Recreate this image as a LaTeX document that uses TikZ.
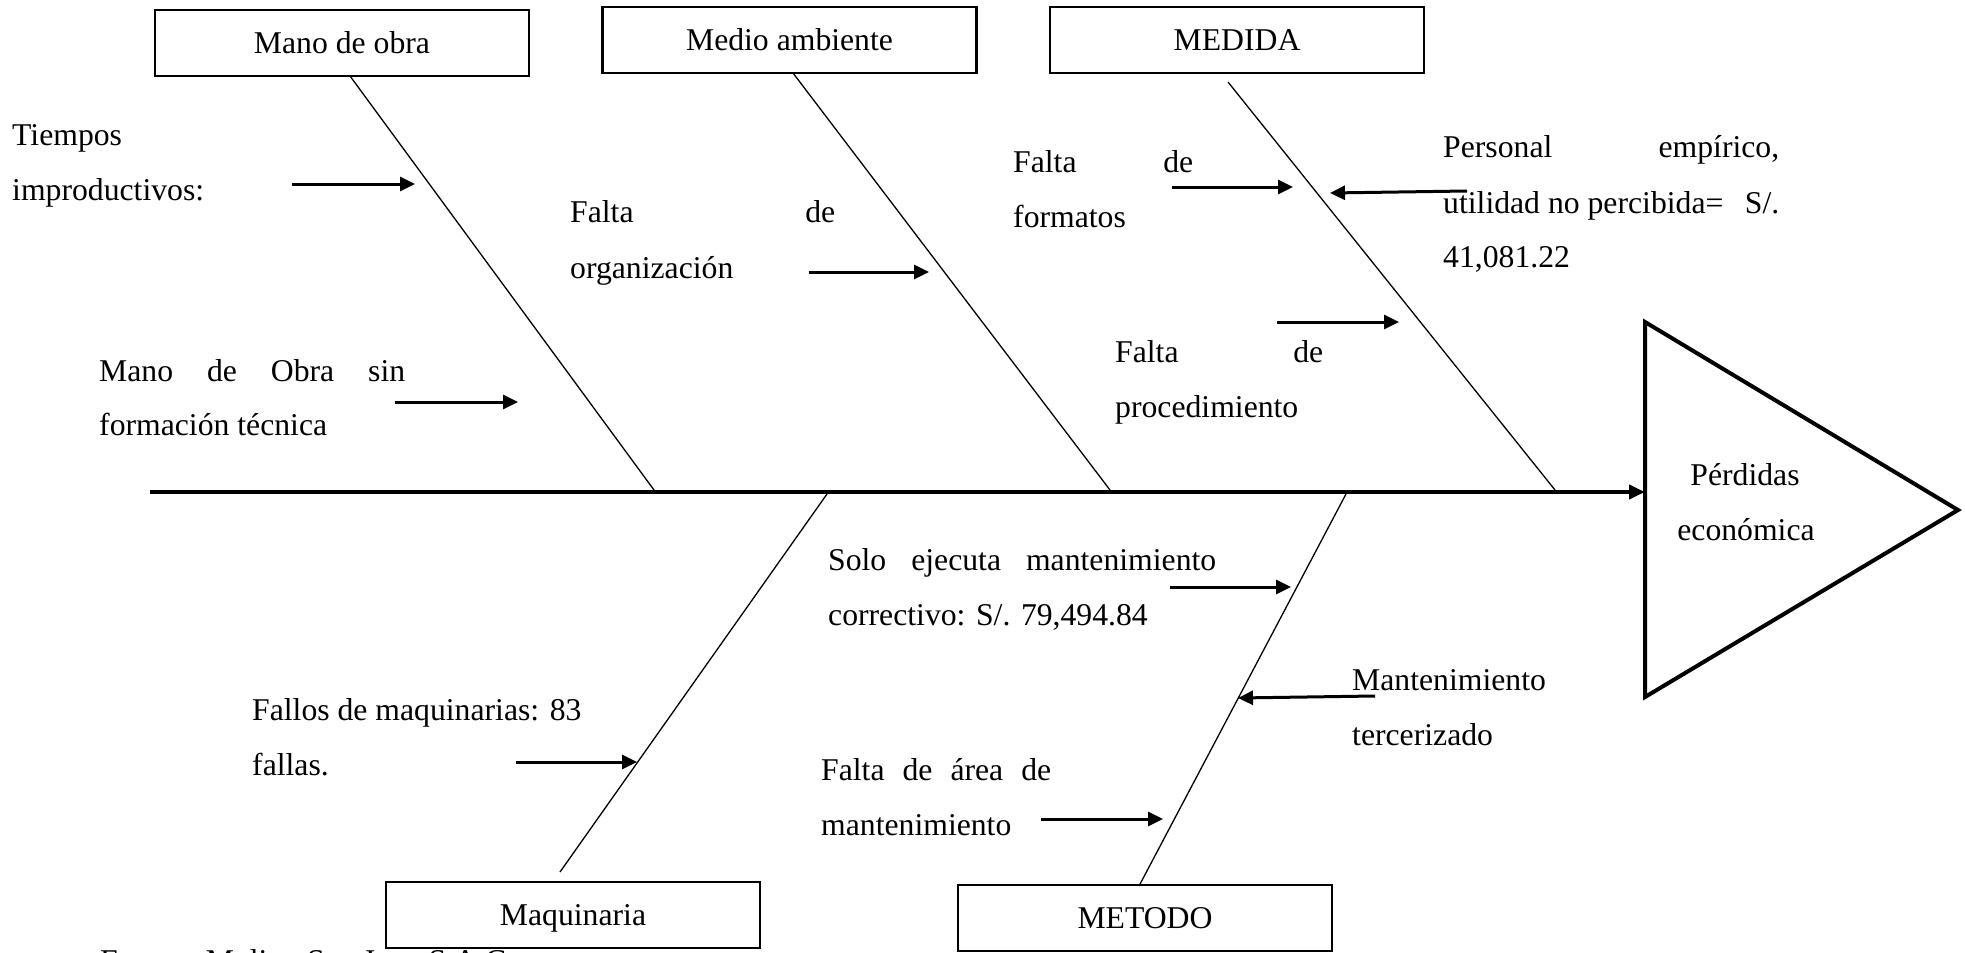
\documentclass[tikz,border=0pt]{standalone}
\usepackage{fontspec}
\setmainfont{Liberation Serif}
\usetikzlibrary{arrows.meta}
\begin{document}
\begin{tikzpicture}[x=1pt,y=-1pt,
  every node/.style={font=\fontsize{31.7}{40}\selectfont, inner sep=0pt},
  catbox/.style={draw, line width=2.5pt, minimum width=374pt, minimum height=66pt,
                 text height=21pt, text depth=0pt},
  bone/.style={line width=1.3pt},
  spine/.style={line width=4pt, -{Triangle[length=16pt,width=14pt]}},
  cause/.style={line width=3pt, -{Triangle[length=15pt,width=14pt]}},
  lbl/.style={anchor=base west},
  effectbox/.style={line width=4pt, line join=miter}]
% page frame
\useasboundingbox (0,0) rectangle (1965,953);
\fill[white] (0,0) rectangle (1965,953);

% category boxes
\node[catbox] (mano)  at (342,43)  {Mano de obra};
\node[catbox] (medio) at (789.5,40) {Medio ambiente};
\node[catbox] (medida) at (1237,40) {MEDIDA};
\node[catbox] (maq)   at (573,915) {Maquinaria};
\node[catbox] (metodo) at (1145,918) {METODO};

% effect head
\coordinate (hA) at (1645,322);
\coordinate (hB) at (1958,510);
\coordinate (hC) at (1645,697);
\draw[effectbox] (hA) -- (hB) -- (hC) -- cycle;
\node[anchor=base] (ef1) at (1745,485) {Pérdidas};
\node[anchor=base] (ef2) at (1746,540) {económica};

% spine
\coordinate (sp0) at (150,492);
\coordinate (sp1) at (1645,492);
\draw[spine] (sp0) -- (sp1);

% bones
\coordinate (b1t) at (350,76);   \coordinate (b1b) at (654,490);
\coordinate (b2t) at (793,73);   \coordinate (b2b) at (1110,490);
\coordinate (b3t) at (1228,82);  \coordinate (b3b) at (1555,490);
\coordinate (b4t) at (827,494);  \coordinate (b4b) at (560,872);
\coordinate (b5t) at (1346,494); \coordinate (b5b) at (1139,886);
\draw[bone] (b1t) -- (b1b);
\draw[bone] (b2t) -- (b2b);
\draw[bone] (b3t) -- (b3b);
\draw[bone] (b4t) -- (b4b);
\draw[bone] (b5t) -- (b5b);

% cause arrows
\coordinate (a1s) at (292,184);  \coordinate (a1e) at (415,184);
\coordinate (a2s) at (395,402);  \coordinate (a2e) at (518,402);
\coordinate (a3s) at (809,272);  \coordinate (a3e) at (929,272);
\coordinate (a4s) at (1172,187); \coordinate (a4e) at (1293,187);
\coordinate (a5s) at (1467,191); \coordinate (a5e) at (1330,193);
\coordinate (a6s) at (1277,322); \coordinate (a6e) at (1399,322);
\coordinate (a7s) at (1170,587); \coordinate (a7e) at (1291,587);
\coordinate (a8s) at (1375,696); \coordinate (a8e) at (1238,698);
\coordinate (a9s) at (1041,819); \coordinate (a9e) at (1163,819);
\coordinate (a10s) at (516,762); \coordinate (a10e) at (637,762);
\foreach \k in {1,...,10} {\draw[cause] (a\k s) -- (a\k e);}

% cause texts
\node[lbl] (t1a) at (12,145) {Tiempos};
\node[lbl] (t1b) at (12,200) {improductivos:};
\node[lbl] (t2a) at (99,381) {\makebox[306pt][s]{Mano de Obra sin}};
\node[lbl] (t2b) at (99,435) {formación técnica};
\node[lbl] (t3a) at (570,222) {\makebox[265pt][s]{Falta de}};
\node[lbl] (t3b) at (570,278) {organización};
\node[lbl] (t4a) at (1013,172) {\makebox[180pt][s]{Falta de}};
\node[lbl] (t4b) at (1013,227) {formatos};
\node[lbl] (t5a) at (1443,157) {\makebox[336pt][s]{Personal empírico,}};
\node[lbl] (t5b) at (1443,213) {\makebox[336pt][l]{utilidad no percibida=\hfill S/.}};
\node[lbl] (t5c) at (1443,267) {41,081.22};
\node[lbl] (t6a) at (1115,362) {\makebox[208pt][s]{Falta de}};
\node[lbl] (t6b) at (1115,417) {procedimiento};
\node[lbl] (t7a) at (828,570) {\makebox[388pt][s]{Solo ejecuta mantenimiento}};
\node[lbl] (t7b) at (828,625) {correctivo: S/. 79,494.84};
\node[lbl] (t8a) at (1352,690) {Mantenimiento};
\node[lbl] (t8b) at (1352,745) {tercerizado};
\node[lbl] (t9a) at (821,780) {\makebox[230pt][s]{Falta de área de}};
\node[lbl] (t9b) at (821,835) {mantenimiento};
\node[lbl] (t10a) at (252,720) {Fallos de maquinarias: 83};
\node[lbl] (t10b) at (252,775) {fallas.};

% source line, running off the lower edge
\node[lbl] (src) at (100,971) {Fuente: Molino San Juan S.A.C.};
\end{tikzpicture}
\end{document}
